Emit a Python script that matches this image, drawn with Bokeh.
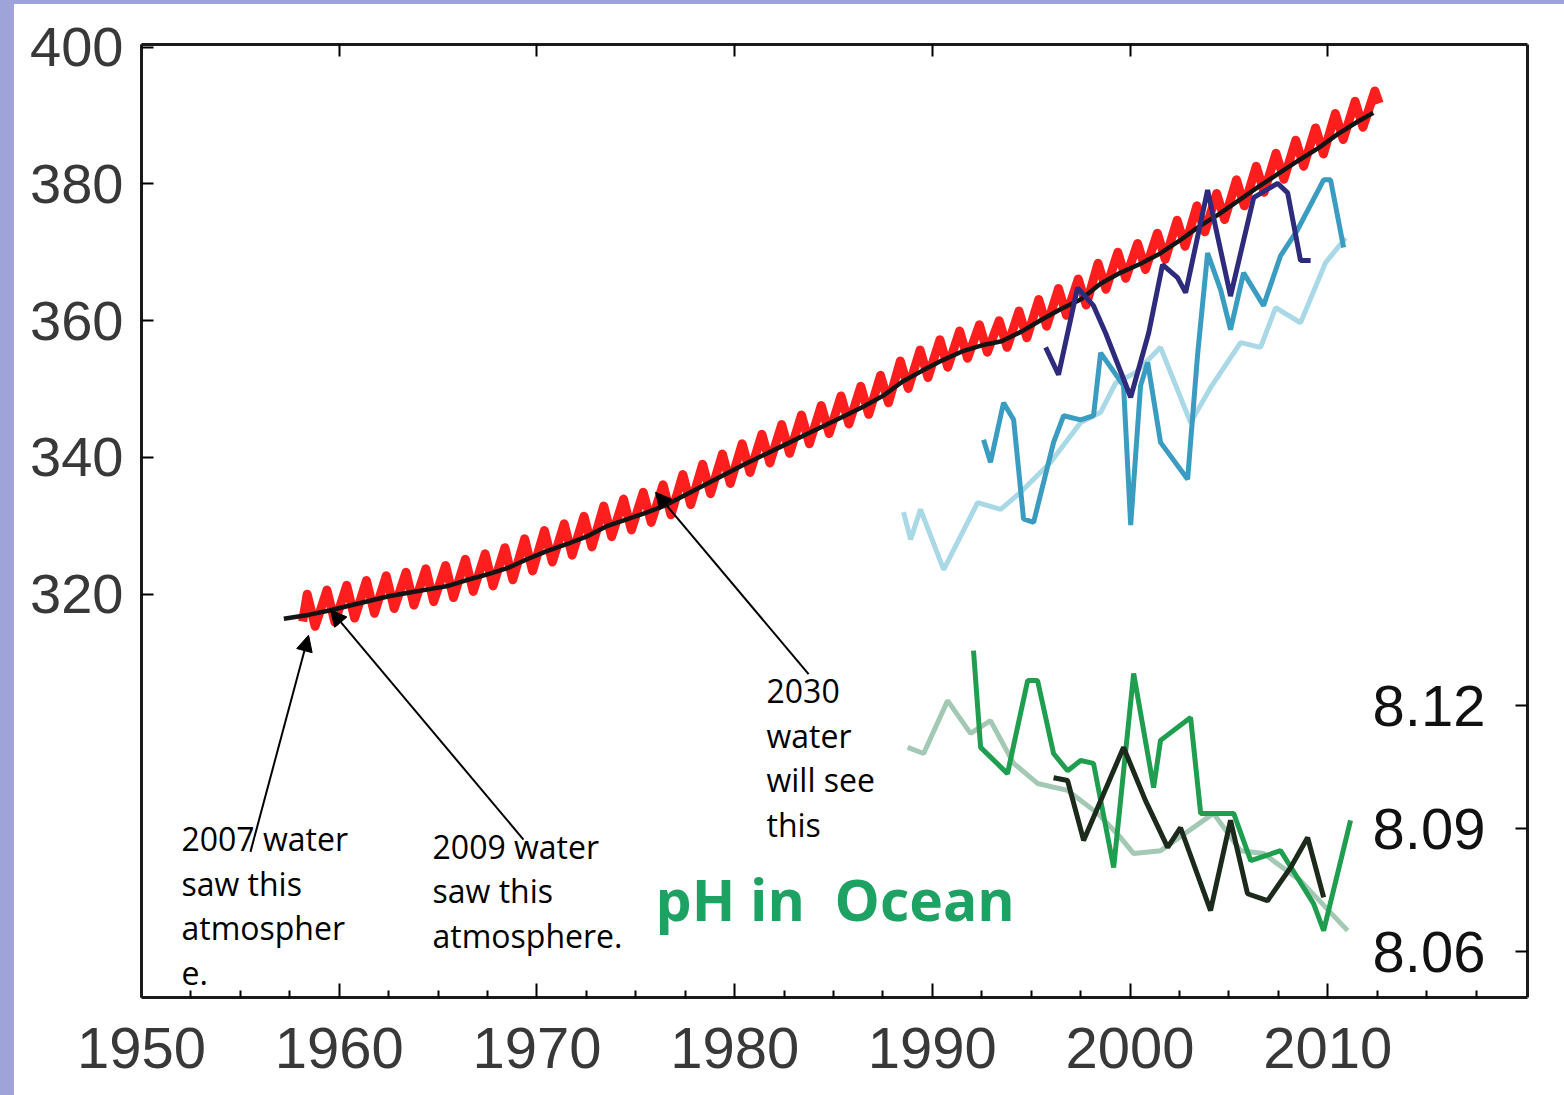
from bokeh.plotting import figure
from bokeh.models import Range1d, LinearAxis, FixedTicker, Arrow, NormalHead, Div
from bokeh.layouts import row, column
from bokeh.embed import file_html
from bokeh.resources import INLINE
from bokeh.core.properties import value

# ---------------- data ----------------
x_major_ticks = [1950, 1960, 1970, 1980, 1990, 2000, 2010]
x_minor_ticks = [1952.5, 1955, 1957.5, 1962.5, 1965, 1967.5, 1972.5, 1975, 1977.5,
                 1982.5, 1985, 1987.5, 1992.5, 1995, 1997.5, 2002.5, 2005, 2007.5,
                 2012.5, 2015, 2017.5]
co2_ticks = [320, 340, 360, 380, 400]
ph_ticks = [8.06, 8.09, 8.12]
ph_tick_labels = ["8.06", "8.09", "8.12"]

# annual trend (black)
trend_years = [1957.2] + [y + 0.5 for y in range(1958, 2012)] + [2012.3]
trend_co2 = [316.4, 317.0, 317.6, 318.3, 319.0, 319.7, 320.2, 320.7, 321.2, 322.1,
             322.9, 323.8, 325.1, 326.3, 327.3, 328.4, 329.9, 330.9, 331.9, 333.0,
             334.5, 336.0, 337.5, 339.0, 340.4, 341.8, 343.2, 344.6, 346.0, 347.4,
             349.0, 351.1, 352.7, 354.2, 355.5, 356.4, 357.0, 358.4, 360.1, 361.7,
             363.1, 365.4, 367.0, 368.3, 369.8, 371.7, 373.8, 375.6, 377.6, 379.6,
             381.5, 383.4, 385.2, 387.3, 389.1, 390.4]

# seasonal record (red): yearly maximum (May) and minimum (Oct)
red_years = list(range(1958, 2013))
red_peaks = [320.0, 320.6, 321.3, 322.0, 322.7, 323.2, 323.7, 324.2, 325.1, 325.9,
             326.8, 328.1, 329.3, 330.3, 331.4, 332.9, 333.9, 334.9, 336.0, 337.5,
             339.0, 340.5, 342.0, 343.4, 344.8, 346.2, 347.6, 349.0, 350.4, 352.0,
             354.1, 355.7, 357.2, 358.5, 359.4, 360.0, 361.4, 363.1, 364.7, 366.1,
             368.4, 370.0, 371.3, 372.8, 374.7, 376.8, 378.6, 380.6, 382.6, 384.5,
             386.4, 388.2, 390.3, 392.1, 393.6]
red_troughs = [315.3, 315.9, 316.5, 317.2, 317.9, 318.4, 318.9, 319.5, 320.4, 321.2,
               322.1, 323.4, 324.7, 325.7, 326.9, 328.4, 329.4, 330.5, 331.6, 333.1,
               334.7, 336.2, 337.8, 339.2, 340.6, 342.0, 343.5, 344.9, 346.3, 348.0,
               350.1, 351.7, 353.2, 354.5, 355.4, 356.1, 357.5, 359.2, 360.8, 362.3,
               364.6, 366.2, 367.5, 369.0, 370.9, 373.0, 374.8, 376.8, 378.8, 380.7,
               382.6, 384.4, 386.5, 388.3, 391.8]
red_start = (1958.15, 316.0)

# ocean surface pCO2
navy_years = [1995.73, 1996.38, 1997.34, 1998.15, 1998.76, 2000.03, 2000.94, 2001.64,
              2002.40, 2002.81, 2003.92, 2005.08, 2006.25, 2007.46, 2007.97, 2008.62, 2009.13]
navy_co2 = [356.1, 352.1, 364.8, 362.2, 358.2, 348.8, 358.2, 368.2,
            366.3, 364.1, 379.1, 363.6, 378.0, 380.1, 378.7, 368.8, 368.8]

teal_years = [1992.59, 1992.94, 1993.60, 1994.11, 1994.61, 1995.12, 1996.13, 1996.64,
              1997.50, 1998.15, 1998.51, 1999.67, 2000.03, 2000.53, 2000.89, 2001.54,
              2002.91, 2003.41, 2003.92, 2004.58, 2005.08, 2005.74, 2006.75, 2007.61,
              2008.47, 2009.79, 2010.14, 2010.80]
teal_co2 = [342.6, 339.3, 348.0, 345.5, 331.0, 330.5, 342.2, 346.1,
            345.5, 346.1, 355.3, 350.5, 330.1, 350.5, 353.9, 342.2,
            336.8, 354.9, 369.9, 364.5, 358.7, 367.0, 362.2, 369.5,
            373.3, 380.6, 380.6, 370.7]

light_years = [1988.54, 1988.90, 1989.40, 1990.57, 1992.29, 1993.45, 1994.46, 1995.98,
               1997.50, 1998.51, 1999.27, 2000.28, 2001.54, 2003.06, 2004.07, 2005.59,
               2006.60, 2007.36, 2008.62, 2009.89, 2010.90]
light_co2 = [332.0, 328.0, 332.4, 323.6, 333.4, 332.4, 334.9, 339.3,
             345.1, 346.6, 350.9, 352.4, 356.1, 345.1, 350.2, 356.8,
             356.1, 361.9, 359.7, 368.5, 372.1]

# ocean pH
phgray_years = [1988.75, 1989.56, 1990.77, 1991.93, 1992.94, 1994.11, 1995.32, 1996.84,
                1998.36, 1999.52, 2000.18, 2001.54, 2004.22, 2005.59, 2006.75, 2008.62, 2011.0]
phgray = [8.1098, 8.1083, 8.1212, 8.1132, 8.1163, 8.1059, 8.1010, 8.0993,
          8.0937, 8.0878, 8.0839, 8.0846, 8.0937, 8.0846, 8.0839, 8.0773, 8.0651]

phgreen_years = [1992.08, 1992.44, 1993.80, 1994.82, 1995.32, 1996.13, 1996.84, 1997.50,
                 1998.15, 1999.17, 2000.18, 2001.19, 2001.54, 2003.06, 2003.57, 2005.24,
                 2006.10, 2007.61, 2009.28, 2009.79, 2011.15]
phgreen = [8.1334, 8.1098, 8.1034, 8.1261, 8.1261, 8.1083, 8.1041, 8.1066,
           8.1059, 8.0805, 8.1278, 8.1000, 8.1115, 8.1171, 8.0937, 8.0937,
           8.0822, 8.0846, 8.0717, 8.0651, 8.0920]

phblack_years = [1996.13, 1996.84, 1997.65, 1998.51, 1999.67, 2000.78, 2001.90, 2002.55,
                 2004.07, 2005.08, 2005.94, 2006.95, 2008.12, 2008.98, 2009.79]
phblack = [8.1024, 8.1017, 8.0871, 8.0968, 8.1098, 8.0968, 8.0854, 8.0902,
           8.0700, 8.0920, 8.0741, 8.0724, 8.0805, 8.0878, 8.0732]

# annotations (data coordinates)
notes = ["2007 water\nsaw this\natmospher\ne.",
         "2009 water\nsaw this\natmosphere.",
         "2030\nwater\nwill see\nthis"]
notes_x = [1952.02, 1964.72, 1981.61]
notes_y = [287.4, 286.3, 309.05]
arrows_start = [(1955.51, 282.3), (1969.32, 284.1), (1983.74, 308.3)]
arrows_end = [(1958.45, 314.0), (1959.56, 317.7), (1976.0, 334.9)]

# ---------------- figure ----------------
BAND_L = 14
BAND_T = 4
W = 1564 - BAND_L
H = 1095 - BAND_T

p = figure(width=W, height=H, output_backend="svg", toolbar_location=None,
           x_range=Range1d(1950, 2020.1), y_range=Range1d(261, 400.4),
           min_border_left=127, min_border_right=37, min_border_top=40,
           min_border_bottom=98)
p.extra_y_ranges = {"ph": Range1d(8.0488, 8.2812)}
p.grid.visible = False
p.outline_line_color = None
p.background_fill_color = "white"
p.border_fill_color = "white"

AXFONT = "Liberation Sans"

# bottom axis
xa = p.xaxis[0]
xa.ticker = FixedTicker(ticks=x_major_ticks, minor_ticks=x_minor_ticks)
xa.axis_line_width = 3
xa.axis_line_color = "#1a1a1a"
xa.major_tick_in = 14
xa.major_tick_out = 0
xa.minor_tick_in = 7
xa.minor_tick_out = 0
xa.major_tick_line_width = 2
xa.minor_tick_line_width = 2
xa.major_label_text_font = AXFONT
xa.major_label_text_font_size = "58px"
xa.major_label_text_color = "#383838"
xa.major_label_standoff = 30

# left axis
ya = p.yaxis[0]
ya.ticker = FixedTicker(ticks=co2_ticks)
ya.axis_line_width = 3
ya.axis_line_color = "#1a1a1a"
ya.major_tick_in = 12
ya.major_tick_out = 0
ya.minor_tick_line_color = None
ya.major_tick_line_width = 2
ya.major_label_text_font = AXFONT
ya.major_label_text_font_size = "56px"
ya.major_label_text_color = "#383838"
ya.major_label_standoff = 18

# top axis (ticks only)
top = LinearAxis(ticker=FixedTicker(ticks=x_major_ticks, minor_ticks=x_minor_ticks),
                 axis_line_width=3, axis_line_color="#1a1a1a",
                 major_tick_in=12, major_tick_out=0, minor_tick_in=0, minor_tick_out=0,
                 major_tick_line_width=2, major_label_text_color=None)
p.add_layout(top, "above")

# right axis (pH ticks)
right = LinearAxis(y_range_name="ph", ticker=FixedTicker(ticks=ph_ticks),
                   axis_line_width=3, axis_line_color="#1a1a1a",
                   major_tick_in=12, major_tick_out=0, minor_tick_in=0, minor_tick_out=0,
                   major_tick_line_width=2, major_label_text_color=None)
p.add_layout(right, "right")

# red seasonal record
red_x = [red_start[0]]
red_y = [red_start[1]]
for yr, pk, tr in zip(red_years, red_peaks, red_troughs):
    red_x += [yr + 0.38, yr + 0.78]
    red_y += [pk, tr]
red_x[-1] = 2012.6
p.line(red_x, red_y, line_color="#ff1e1e", line_width=9, line_join="round")

# trend
p.line(trend_years, trend_co2, line_color="#141414", line_width=4.5)

# ocean pCO2
p.line(light_years, light_co2, line_color="#a9d8e6", line_width=5)
p.line(teal_years, teal_co2, line_color="#3a9cc0", line_width=5)
p.line(navy_years, navy_co2, line_color="#2e2a7c", line_width=5)

# ocean pH
p.line(phgray_years, phgray, y_range_name="ph", line_color="#a3c9b5", line_width=5)
p.line(phgreen_years, phgreen, y_range_name="ph", line_color="#1f9e50", line_width=5)
p.line(phblack_years, phblack, y_range_name="ph", line_color="#1c2a1c", line_width=5)

# pH tick labels, drawn inside the frame
p.text(x=[2020.1] * 3, y=ph_ticks, text=ph_tick_labels, y_range_name="ph",
       x_offset=-42, text_align="right", text_baseline="middle",
       text_font=value("Liberation Sans"), text_font_size="58px", text_color="#111111")

# "pH in Ocean"
p.text(x=[1976.0], y=[275.4], text=["pH in\u00a0 Ocean"], text_align="left",
       text_baseline="middle", text_font=value("Open Sans"), text_font_style="bold",
       text_font_size="57px", text_color="#1ea264")

# notes
p.text(x=notes_x, y=notes_y, text=notes, text_align="left", text_baseline="top",
       text_font=value("Open Sans"), text_font_size="32px", text_color="black",
       text_line_height=1.04)

for (xs, ys), (xe, ye) in zip(arrows_start, arrows_end):
    p.add_layout(Arrow(end=NormalHead(size=16, fill_color="black", line_color="black",
                                      line_width=1),
                       x_start=xs, y_start=ys, x_end=xe, y_end=ye,
                       line_color="black", line_width=2))

band_top = Div(text="", width=1564, height=BAND_T, margin=(0, 0, 0, 0),
               styles={"background-color": "#9ea3da"})
band_left = Div(text="", width=BAND_L, height=H, margin=(0, 0, 0, 0),
                styles={"background-color": "#9ea3da"})
layout = column(band_top, row(band_left, p, spacing=0), spacing=0)

open("out.html", "w").write(file_html(layout, INLINE))
